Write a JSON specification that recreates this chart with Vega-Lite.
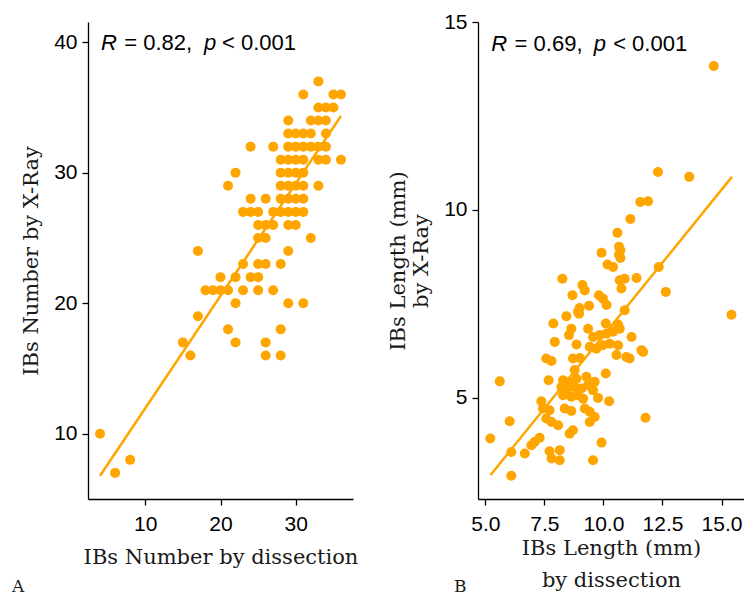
{
  "$schema": "https://vega.github.io/schema/vega-lite/v6.json",
  "background": "white",
  "padding": {"left": 12, "top": 11, "right": 0, "bottom": 0},
  "bounds": "flush",
  "spacing": 125,
  "config": {
    "view": {"stroke": null},
    "axis": {
      "grid": false,
      "domainColor": "black",
      "domainWidth": 1.3,
      "tickColor": "black",
      "tickWidth": 1.3,
      "tickSize": 6,
      "labelFont": "Liberation Sans",
      "labelFontSize": 21,
      "labelColor": "black",
      "labelPadding": 5,
      "titleFont": "DejaVu Serif",
      "titleFontSize": 21,
      "titleFontWeight": "normal",
      "titleColor": "#1a1a1a",
      "titlePadding": 12
    },
    "axisX": {"labelPadding": 8, "titlePadding": 12, "titleLineHeight": 32}
  },
  "datasets": {
    "ptsA": [
      {"x":33,"y":37},
      {"x":31,"y":36},{"x":35,"y":36},{"x":36,"y":36},
      {"x":33,"y":35},{"x":34,"y":35},{"x":35,"y":35},
      {"x":29,"y":34},{"x":32,"y":34},{"x":33,"y":34},{"x":34,"y":34},
      {"x":29,"y":33},{"x":30,"y":33},{"x":31,"y":33},{"x":32,"y":33},{"x":34,"y":33},
      {"x":24,"y":32},{"x":27,"y":32},{"x":29,"y":32},{"x":30,"y":32},{"x":31,"y":32},{"x":32,"y":32},{"x":33,"y":32},{"x":34,"y":32},
      {"x":28,"y":31},{"x":29,"y":31},{"x":30,"y":31},{"x":31,"y":31},{"x":33,"y":31},{"x":34,"y":31},{"x":36,"y":31},
      {"x":22,"y":30},{"x":28,"y":30},{"x":29,"y":30},{"x":30,"y":30},{"x":31,"y":30},
      {"x":21,"y":29},{"x":28,"y":29},{"x":29,"y":29},{"x":30,"y":29},{"x":31,"y":29},{"x":33,"y":29},
      {"x":24,"y":28},{"x":26,"y":28},{"x":28,"y":28},{"x":29,"y":28},{"x":30,"y":28},{"x":31,"y":28},
      {"x":23,"y":27},{"x":24,"y":27},{"x":25,"y":27},{"x":27,"y":27},{"x":28,"y":27},{"x":29,"y":27},{"x":30,"y":27},{"x":31,"y":27},
      {"x":25,"y":26},{"x":26,"y":26},{"x":27,"y":26},{"x":29,"y":26},{"x":30,"y":26},
      {"x":25,"y":25},{"x":26,"y":25},{"x":32,"y":25},
      {"x":17,"y":24},{"x":29,"y":24},
      {"x":23,"y":23},{"x":25,"y":23},{"x":26,"y":23},{"x":28,"y":23},
      {"x":20,"y":22},{"x":22,"y":22},{"x":24,"y":22},{"x":25,"y":22},
      {"x":18,"y":21},{"x":19,"y":21},{"x":20,"y":21},{"x":21,"y":21},{"x":23,"y":21},{"x":25,"y":21},{"x":27,"y":21},
      {"x":22,"y":20},{"x":29,"y":20},{"x":31,"y":20},
      {"x":17,"y":19},
      {"x":21,"y":18},{"x":28,"y":18},
      {"x":15,"y":17},{"x":22,"y":17},{"x":26,"y":17},
      {"x":16,"y":16},{"x":26,"y":16},{"x":28,"y":16},
      {"x":4,"y":10},{"x":8,"y":8},{"x":6,"y":7}
    ],
    "ptsB": [
      {"x":14.67,"y":13.83},{"x":12.31,"y":11.01},{"x":13.63,"y":10.88},{"x":11.56,"y":10.21},{"x":11.89,"y":10.23},
      {"x":11.14,"y":9.76},{"x":10.59,"y":9.39},{"x":10.66,"y":9.02},{"x":10.72,"y":8.93},{"x":10.66,"y":8.81},
      {"x":10.72,"y":8.72},{"x":9.92,"y":8.86},{"x":10.17,"y":8.55},{"x":10.41,"y":8.48},{"x":12.34,"y":8.48},
      {"x":8.26,"y":8.17},{"x":10.69,"y":8.13},{"x":10.9,"y":8.17},{"x":11.4,"y":8.19},{"x":9.11,"y":8.0},
      {"x":9.21,"y":7.86},{"x":10.76,"y":7.91},{"x":12.64,"y":7.82},{"x":8.69,"y":7.73},{"x":9.81,"y":7.73},
      {"x":9.98,"y":7.64},{"x":10.13,"y":7.47},{"x":8.99,"y":7.39},{"x":8.92,"y":7.29},{"x":9.39,"y":7.45},
      {"x":10.9,"y":7.33},{"x":8.43,"y":7.17},{"x":8.97,"y":7.24},{"x":15.42,"y":7.21},{"x":7.88,"y":6.98},
      {"x":10.1,"y":6.98},{"x":10.62,"y":6.95},{"x":10.69,"y":6.84},{"x":8.64,"y":6.84},{"x":8.54,"y":6.67},
      {"x":9.35,"y":6.84},{"x":9.56,"y":6.62},{"x":9.84,"y":6.67},{"x":10.13,"y":6.71},{"x":10.41,"y":6.76},
      {"x":11.19,"y":6.62},{"x":7.94,"y":6.49},{"x":8.86,"y":6.42},{"x":9.42,"y":6.36},{"x":9.7,"y":6.31},
      {"x":9.98,"y":6.4},{"x":10.27,"y":6.44},{"x":10.62,"y":6.4},{"x":11.61,"y":6.27},{"x":11.68,"y":6.22},
      {"x":7.58,"y":6.05},{"x":7.8,"y":5.98},{"x":8.71,"y":6.05},{"x":9.0,"y":6.06},{"x":10.55,"y":6.14},
      {"x":10.97,"y":6.09},{"x":11.11,"y":6.05},{"x":5.61,"y":5.44},{"x":7.68,"y":5.47},{"x":8.29,"y":5.47},
      {"x":8.57,"y":5.43},{"x":8.86,"y":5.51},{"x":9.28,"y":5.56},{"x":9.63,"y":5.43},{"x":10.1,"y":5.65},
      {"x":8.78,"y":5.74},{"x":8.22,"y":5.29},{"x":8.5,"y":5.25},{"x":8.78,"y":5.29},{"x":9.07,"y":5.25},
      {"x":9.35,"y":5.34},{"x":9.56,"y":5.2},{"x":8.29,"y":5.07},{"x":8.64,"y":5.03},{"x":8.92,"y":5.07},
      {"x":9.14,"y":4.98},{"x":9.77,"y":5.0},{"x":10.24,"y":4.91},{"x":7.37,"y":4.91},{"x":7.44,"y":4.72},
      {"x":7.72,"y":4.67},{"x":8.36,"y":4.72},{"x":8.64,"y":4.65},{"x":9.21,"y":4.72},{"x":9.42,"y":4.63},
      {"x":9.63,"y":4.49},{"x":9.42,"y":4.36},{"x":11.78,"y":4.47},{"x":6.03,"y":4.38},{"x":7.58,"y":4.45},
      {"x":7.8,"y":4.36},{"x":8.08,"y":4.27},{"x":8.71,"y":4.14},{"x":8.57,"y":4.05},{"x":5.21,"y":3.92},
      {"x":7.3,"y":3.94},{"x":7.09,"y":3.83},{"x":6.95,"y":3.74},{"x":9.92,"y":3.81},{"x":6.1,"y":3.56},
      {"x":6.67,"y":3.52},{"x":7.72,"y":3.58},{"x":8.15,"y":3.61},{"x":7.8,"y":3.39},{"x":8.15,"y":3.34},
      {"x":9.56,"y":3.34},{"x":6.1,"y":2.93}
    ],
    "lineA": [{"x":4,"y":6.78},{"x":36,"y":34.35}],
    "lineB": [{"x":5.22,"y":2.95},{"x":15.44,"y":10.88}],
    "annA": [
      {"t":"R","x":4.13,"y":39.91,"it":true},
      {"t":"= 0.82,","x":7.22,"y":39.91,"it":false},
      {"t":"p","x":17.81,"y":39.91,"it":true},
      {"t":"< 0.001","x":20.2,"y":39.91,"it":false}
    ],
    "annB": [
      {"t":"R","x":5.25,"y":14.42,"it":true},
      {"t":"= 0.69,","x":6.24,"y":14.42,"it":false},
      {"t":"p","x":9.59,"y":14.42,"it":true},
      {"t":"< 0.001","x":10.41,"y":14.42,"it":false}
    ]
  },
  "hconcat": [
    {
      "width": 265,
      "height": 477,
      "title": {"text": "A", "orient": "bottom", "anchor": "start", "frame": "group", "dx": -76, "offset": 12, "font": "DejaVu Serif", "fontSize": 17, "fontWeight": "normal", "color": "#1a1a1a"},
      "encoding": {
        "x": {"field": "x", "type": "quantitative", "scale": {"domain": [2.4, 37.6], "nice": false, "zero": false}, "axis": {"title": "IBs Number by dissection", "values": [10, 20, 30]}},
        "y": {"field": "y", "type": "quantitative", "scale": {"domain": [5.0, 41.55], "nice": false, "zero": false}, "axis": {"title": "IBs Number by X-Ray", "values": [10, 20, 30, 40]}}
      },
      "layer": [
        {"data": {"name": "ptsA"}, "mark": {"type": "circle", "size": 100, "color": "#FFA500", "opacity": 1}},
        {"data": {"name": "lineA"}, "mark": {"type": "line", "color": "#FFA500", "strokeWidth": 2.5}},
        {"data": {"name": "annA"}, "transform": [{"filter": "datum.it"}], "mark": {"type": "text", "align": "left", "baseline": "middle", "font": "Liberation Sans", "fontSize": 22, "fontStyle": "italic", "color": "black"}, "encoding": {"text": {"field": "t"}}},
        {"data": {"name": "annA"}, "transform": [{"filter": "!datum.it"}], "mark": {"type": "text", "align": "left", "baseline": "middle", "font": "Liberation Sans", "fontSize": 22, "color": "black"}, "encoding": {"text": {"field": "t"}}}
      ]
    },
    {
      "width": 266,
      "height": 477,
      "title": {"text": "B", "orient": "bottom", "anchor": "start", "frame": "group", "dx": -24, "offset": -11, "font": "DejaVu Serif", "fontSize": 17, "fontWeight": "normal", "color": "#1a1a1a"},
      "encoding": {
        "x": {"field": "x", "type": "quantitative", "scale": {"domain": [4.69, 15.95], "nice": false, "zero": false}, "axis": {"title": ["IBs Length (mm)", "by dissection"], "values": [5, 7.5, 10, 12.5, 15], "format": ".1f", "titlePadding": 3}},
        "y": {"field": "y", "type": "quantitative", "scale": {"domain": [2.31, 15.0], "nice": false, "zero": false}, "axis": {"title": ["IBs Length (mm)", "by X-Ray"], "values": [5, 10, 15]}}
      },
      "layer": [
        {"data": {"name": "ptsB"}, "mark": {"type": "circle", "size": 100, "color": "#FFA500", "opacity": 1}},
        {"data": {"name": "lineB"}, "mark": {"type": "line", "color": "#FFA500", "strokeWidth": 2.5}},
        {"data": {"name": "annB"}, "transform": [{"filter": "datum.it"}], "mark": {"type": "text", "align": "left", "baseline": "middle", "font": "Liberation Sans", "fontSize": 22, "fontStyle": "italic", "color": "black"}, "encoding": {"text": {"field": "t"}}},
        {"data": {"name": "annB"}, "transform": [{"filter": "!datum.it"}], "mark": {"type": "text", "align": "left", "baseline": "middle", "font": "Liberation Sans", "fontSize": 22, "color": "black"}, "encoding": {"text": {"field": "t"}}}
      ]
    }
  ]
}
